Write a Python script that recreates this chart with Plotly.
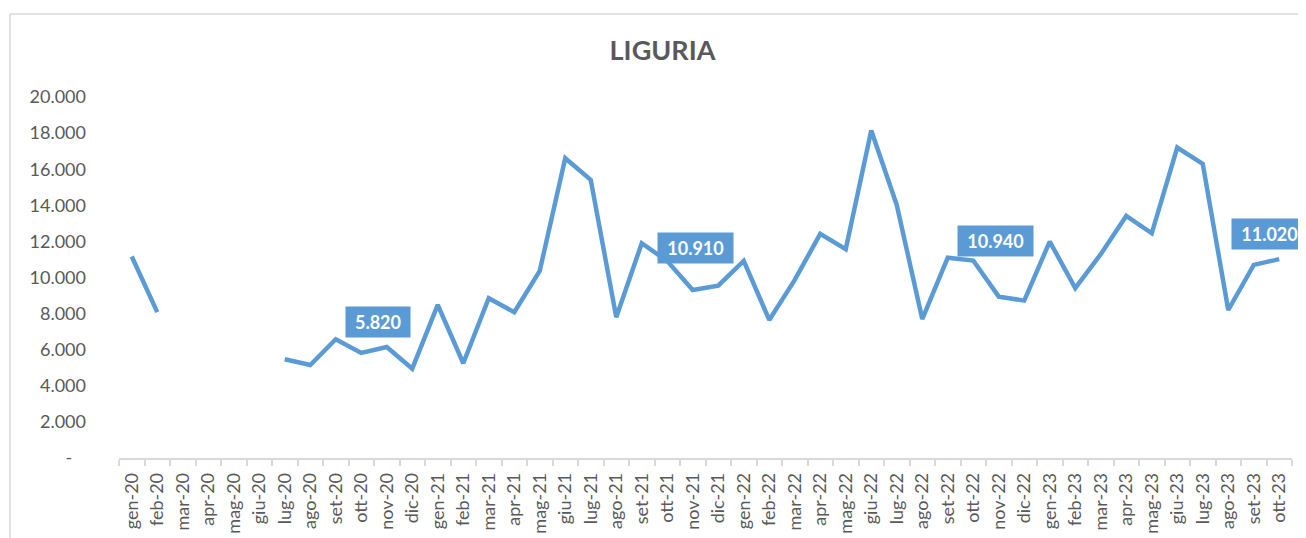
import plotly.graph_objects as go

categories = [
    "gen-20", "feb-20", "mar-20", "apr-20", "mag-20", "giu-20", "lug-20", "ago-20", "set-20", "ott-20", "nov-20", "dic-20",
    "gen-21", "feb-21", "mar-21", "apr-21", "mag-21", "giu-21", "lug-21", "ago-21", "set-21", "ott-21", "nov-21", "dic-21",
    "gen-22", "feb-22", "mar-22", "apr-22", "mag-22", "giu-22", "lug-22", "ago-22", "set-22", "ott-22", "nov-22", "dic-22",
    "gen-23", "feb-23", "mar-23", "apr-23", "mag-23", "giu-23", "lug-23", "ago-23", "set-23", "ott-23",
]
values = [
    11160, 8080, None, None, None, None, 5470, 5150, 6580, 5820, 6150, 4950,
    8480, 5250, 8850, 8080, 10370, 16610, 15410, 7800, 11900, 10910, 9310, 9550,
    10920, 7650, 9870, 12420, 11570, 18140, 14020, 7700, 11100, 10940, 8940, 8720,
    11990, 9410, 11290, 13410, 12450, 17200, 16300, 8200, 10700, 11020,
]
labelled = ["ott-20", "ott-21", "ott-22", "ott-23"]
label_text = ["5.820", "10.910", "10.940", "11.020"]
ytick_vals = [0, 2000, 4000, 6000, 8000, 10000, 12000, 14000, 16000, 18000, 20000]
ytick_text = ["-\u00a0\u00a0\u00a0", "2.000", "4.000", "6.000", "8.000", "10.000",
              "12.000", "14.000", "16.000", "18.000", "20.000"]
title_text = "LIGURIA"

# page body has an 8px default margin; size the figure so it fits the window
OFF = 8
W, H = 1306 - OFF, 538 - OFF
ML, MR, MT, MB = 119 - OFF, 14, 97 - OFF, 80
BLUE = "#5B9BD5"
GRAY = "#595959"
LIGHT = "#D9D9D9"
FONT = "Lato"

fig = go.Figure()
fig.add_trace(go.Scatter(
    x=categories, y=values, mode="lines",
    line=dict(color=BLUE, width=4.5),
    connectgaps=False, hoverinfo="x+y", showlegend=False,
))

label_shifts = [(17, 31), (28, 13), (22, 20), (-10, 25)]
label_widths = [56, 67, 67, 67]
for cat, txt, (dx, dy), w in zip(labelled, label_text, label_shifts, label_widths):
    fig.add_annotation(
        x=cat, y=values[categories.index(cat)], text="<b>%s</b>" % txt,
        showarrow=False, xshift=dx, yshift=dy, xanchor="center", yanchor="middle",
        bgcolor=BLUE, borderpad=4, width=w,
        font=dict(family=FONT, size=18, color="white"),
    )

pw = W - ML - MR
ph = H - MT - MB
bx0, by0 = 10 - OFF, 14 - OFF
fig.add_shape(
    type="rect", xref="paper", yref="paper",
    x0=(bx0 - ML) / pw, x1=(W + 10 - ML) / pw,
    y0=(H - MB - (H + 10)) / ph, y1=(H - MB - by0) / ph,
    line=dict(color=LIGHT, width=1.5), fillcolor="rgba(0,0,0,0)", layer="below",
)

fig.update_layout(
    width=W, height=H,
    margin=dict(l=ML, r=MR, t=MT, b=MB, autoexpand=False),
    paper_bgcolor="white", plot_bgcolor="white",
    font=dict(family=FONT, color=GRAY, size=18),
    title=dict(text="<b>%s</b>" % title_text, x=(662.5 - OFF) / W, xref="container", xanchor="center",
               y=1 - (51 - OFF) / H, yref="container", yanchor="middle",
               font=dict(family=FONT, size=27, color=GRAY)),
    xaxis=dict(
        type="category", categoryorder="array", categoryarray=categories,
        tickson="boundaries", ticks="outside", ticklen=6, tickcolor=LIGHT, tickwidth=1.5,
        showline=True, linecolor=LIGHT, linewidth=1.5, showgrid=False, zeroline=False,
        tickangle=-90, tickfont=dict(family=FONT, size=18, color=GRAY),
        ticklabelstandoff=6,
        range=[-0.5, len(categories) - 0.5],
    ),
    yaxis=dict(
        range=[0, 20000], tickvals=ytick_vals, ticktext=ytick_text,
        showgrid=False, zeroline=False, showline=False, ticks="",
        ticklabelstandoff=32, tickfont=dict(family=FONT, size=18, color=GRAY),
    ),
)

fig.write_html("out.html")
